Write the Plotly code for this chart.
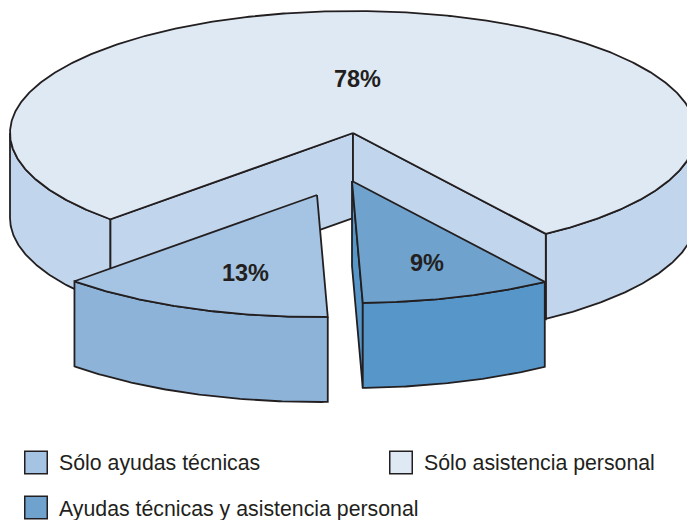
import numpy as np
import plotly.graph_objects as go

# Data
categories = ["Sólo ayudas técnicas", "Sólo asistencia personal", "Ayudas técnicas y asistencia personal"]
shares = [13, 78, 9]
labels = ["13%", "78%", "9%"]

# Colours
TOP = {"a": "#a5c3e2", "p": "#dfe9f4", "b": "#6fa3ce"}
SIDE = {"a": "#8db3d8", "p": "#c1d6ec", "b": "#5696c8"}
INK = "#231f20"

# Projection of the disc
CX, CY, RX, RY, DEPTH = 353, 133, 343, 122, 85
START = 135.0  # screen angle (deg, clockwise) where the slices meet on the left
OFFSET_A = (-36, 62)
OFFSET_B = (-1, 48)


def deg(share):
    return share * 3.6


def rim(a0, a1, off=(0, 0), drop=0):
    t = np.radians(np.linspace(a0, a1, max(int(abs(a1 - a0) * 2), 2)))
    return CX + off[0] + RX * np.cos(t), CY + off[1] + drop + RY * np.sin(t)


def apex(off=(0, 0), drop=0):
    return CX + off[0], CY + off[1] + drop


fig = go.Figure()


def poly(x, y, fill, lw=1.8):
    fig.add_trace(go.Scatter(
        x=np.append(x, x[0]), y=np.append(y, y[0]), mode="lines", fill="toself",
        fillcolor=fill, line=dict(color=INK, width=lw), hoverinfo="skip", showlegend=False))


def side(a0, a1, off, fill):
    x0, y0 = rim(a0, a1, off)
    x1, y1 = rim(a1, a0, off, DEPTH)
    poly(np.r_[x0, x1], np.r_[y0, y1], fill)


def wall(a, off, fill):
    rx, ry = rim(a, a, off)
    ax, ay = apex(off)
    poly(np.array([ax, rx[0], rx[0], ax]), np.array([ay, ry[0], ry[0] + DEPTH, ay + DEPTH]), fill)


def top(a0, a1, off, fill):
    x, y = rim(a0, a1, off)
    ax, ay = apex(off)
    poly(np.r_[ax, x], np.r_[ay, y], fill)


# Slice limits, derived from the shares
a_end = START - deg(shares[0])          # 13% runs from here to START
b_end = a_end - deg(shares[2])          # 9% runs from here to a_end
p_start, p_end = START, b_end + 360     # 78% runs the long way round

# Large slice
side(p_start, 180, (0, 0), SIDE["p"])
side(0, b_end, (0, 0), SIDE["p"])
wall(p_start, (0, 0), SIDE["p"])
wall(b_end, (0, 0), SIDE["p"])
top(p_start, p_end, (0, 0), TOP["p"])

# Left slice
side(a_end, START, OFFSET_A, SIDE["a"])
top(a_end, START, OFFSET_A, TOP["a"])

# Right slice
wall(a_end, OFFSET_B, SIDE["b"])
side(b_end, a_end, OFFSET_B, SIDE["b"])
top(b_end, a_end, OFFSET_B, TOP["b"])

# Percent labels
fig.add_trace(go.Scatter(
    x=[245.5, 357.5, 427], y=[275, 81, 265], mode="text", text=labels,
    textposition="middle center",
    textfont=dict(family="Liberation Sans", size=23.5, color=INK, weight="bold"),
    hoverinfo="skip", showlegend=False))

# Key
fig.add_trace(go.Scatter(
    x=[36, 401, 36], y=[462.5, 462.5, 507.5], mode="markers",
    marker=dict(symbol="square", size=22.5, color=[TOP["a"], TOP["p"], TOP["b"]],
                line=dict(color=INK, width=1.5)),
    hoverinfo="skip", showlegend=False, cliponaxis=False))
fig.add_trace(go.Scatter(
    x=[59, 424, 59], y=[465, 465, 511], mode="text", text=categories,
    textposition="middle right",
    textfont=dict(family="Liberation Sans", size=21.3, color=INK),
    hoverinfo="skip", showlegend=False, cliponaxis=False))

fig.update_layout(
    width=687, height=520, margin=dict(l=0, r=0, t=0, b=0),
    paper_bgcolor="white", plot_bgcolor="white", showlegend=False,
    xaxis=dict(range=[0, 687], visible=False, fixedrange=True),
    yaxis=dict(range=[520, 0], visible=False, fixedrange=True),
)
fig.write_html("out.html", config={"displayModeBar": False},
               post_script="document.body.style.margin='0';document.body.style.overflow='hidden';")
